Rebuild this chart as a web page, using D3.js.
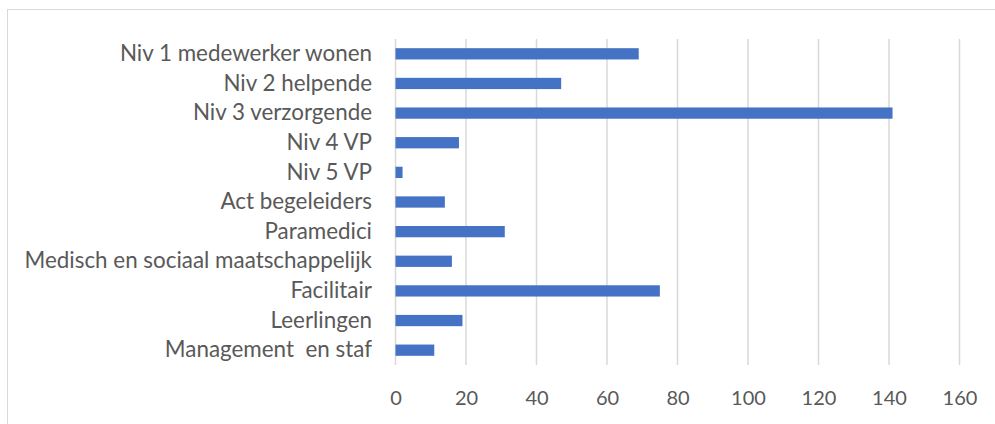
<!DOCTYPE html>
<html><head><meta charset="utf-8">
<script src="https://cdn.jsdelivr.net/npm/d3@7"></script>
<style>html,body{margin:0;padding:0;background:#fff;overflow:hidden}</style>
</head><body>
<script>
const categories = ["Niv 1 medewerker wonen","Niv 2 helpende","Niv 3 verzorgende","Niv 4 VP","Niv 5 VP","Act begeleiders","Paramedici","Medisch en sociaal maatschappelijk","Facilitair","Leerlingen","Management  en staf"];
const values = [69,47,141,18,2,14,31,16,75,19,11];
const ticks = [0,20,40,60,80,100,120,140,160];

const W=995,H=424;
const svg=d3.select("body").append("svg").attr("width",W).attr("height",H);
svg.append("rect").attr("x",7.5).attr("y",9.5).attr("width",1100).attr("height",600)
  .attr("fill","#fff").attr("stroke","#d9d9d9").attr("stroke-width",1);

const x=d3.scaleLinear().domain([0,160]).range([395.5,959.5]);
const y=d3.scaleBand().domain(categories).range([39,365]).paddingInner(0.62).paddingOuter(0.31);

const grid=svg.append("g");
grid.selectAll("line").data(ticks).join("line")
  .attr("x1",d=>x(d)).attr("x2",d=>x(d)).attr("y1",39).attr("y2",365)
  .attr("stroke","#d9d9d9").attr("stroke-width",1.5);

svg.append("g").selectAll("rect").data(values).join("rect")
  .attr("x",x(0)).attr("y",(d,i)=>y(categories[i]))
  .attr("width",d=>x(d)-x(0)).attr("height",y.bandwidth())
  .attr("fill","#4472C4");

const font="Lato, 'Open Sans', sans-serif";
const yAxis=d3.axisLeft(y).tickSize(0).tickPadding(0);
const ya=svg.append("g").attr("transform","translate(372,0)").call(yAxis);
ya.select(".domain").remove();
ya.selectAll("text").attr("font-family",font).attr("font-size",22.4).attr("fill","#595959")
  .style("white-space","pre").attr("xml:space","preserve");

const xAxis=d3.axisBottom(x).tickValues(ticks).tickSize(0).tickPadding(0);
const xa=svg.append("g").attr("transform","translate(0,391)").call(xAxis);
xa.select(".domain").remove();
xa.selectAll("text").attr("font-family",font).attr("font-size",20).attr("fill","#595959").attr("dy","0.71em");
</script>
</body></html>
